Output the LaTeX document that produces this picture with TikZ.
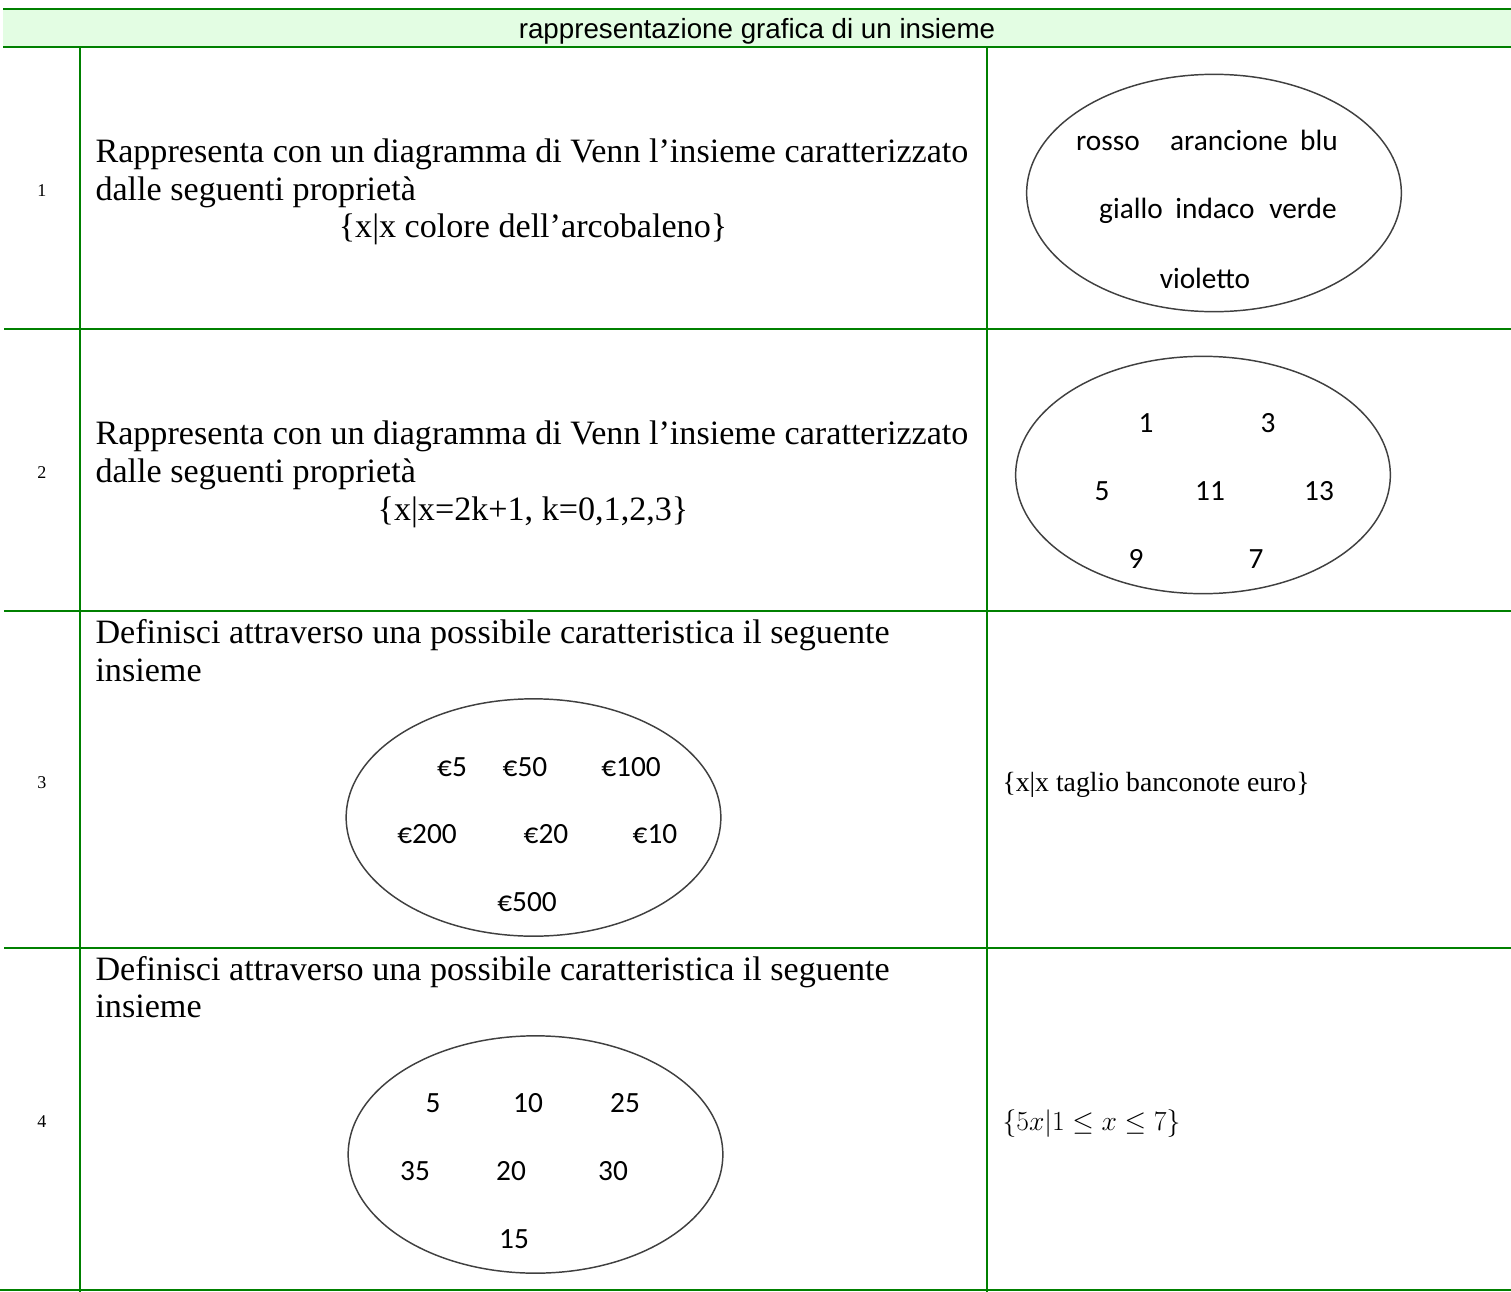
\documentclass[tikz,border=0pt]{standalone}
\usepackage{fontspec}
\setmainfont{Liberation Serif}
\newfontfamily\vennfont{Carlito}
\newfontfamily\headfont{Liberation Sans}
\usetikzlibrary{shapes.geometric}

\definecolor{tabgreen}{RGB}{0,128,0}
\definecolor{headfill}{RGB}{227,253,227}

\tikzset{every picture/.style={line width=0.75pt}}
\tikzset{
  rule/.style={draw=tabgreen, line width=1.8pt},
  venn/.style={ellipse, draw=black!75, line width=1.1pt, minimum width=281pt, minimum height=178pt, inner sep=0pt},
  vlab/.style={anchor=base, inner sep=0pt, font=\vennfont\fontsize{22}{24}\selectfont},
  body/.style={anchor=base west, inner sep=0pt, font=\fontsize{25.6}{28.5}\selectfont},
  bodyc/.style={body, anchor=base},
  side/.style={anchor=base west, inner sep=0pt, font=\fontsize{20.8}{24}\selectfont},
  rownum/.style={anchor=base, inner sep=0pt, font=\fontsize{13.5}{16}\selectfont}
}

\begin{document}
\begin{tikzpicture}[x=0.75pt,y=0.75pt,yscale=-1,xscale=1]
    \useasboundingbox (0,0) rectangle (1511,1292);

    %Shape: Header band
    \fill[headfill] (3,9) rectangle (1511,47);

    %Straight Lines: horizontal rules
    \draw[rule] (3,9) -- (1511,9);
    \draw[rule] (3,47) -- (1511,47);
    \draw[rule] (4,329) -- (1511,329);
    \draw[rule] (4,611) -- (1511,611);
    \draw[rule] (4,948) -- (1511,948);
    \draw[rule] (0,1290) -- (1511,1290);
    %Straight Lines: vertical rules
    \draw[rule] (80,47) -- (80,1292);
    \draw[rule] (987,47) -- (987,1292);

    % Text Node
    \node[anchor=base, inner sep=0pt, font=\headfont\fontsize{20.8}{24}\selectfont] (title) at (757,38) {rappresentazione grafica di un insieme};

    % Text Node
    \node[rownum] (num1) at (42,196) {1};
    \node[rownum] (num2) at (42,478) {2};
    \node[rownum] (num3) at (42,788) {3};
    \node[rownum] (num4) at (42,1127) {4};

    % Text Node
    \node[body] (ask1a) at (95,162) {Rappresenta con un diagramma di Venn l’insieme caratterizzato};
    \node[body] (ask1b) at (95,200) {dalle seguenti proprietà};
    \node[bodyc] (ask1c) at (533,237) {\{x|x colore dell’arcobaleno\}};
    % Text Node
    \node[body] (ask2a) at (95,444) {Rappresenta con un diagramma di Venn l’insieme caratterizzato};
    \node[body] (ask2b) at (95,482) {dalle seguenti proprietà};
    \node[bodyc] (ask2c) at (533,520) {\{x|x=2k+1, k=0,1,2,3\}};
    % Text Node
    \node[body] (ask3a) at (95,643) {Definisci attraverso una possibile caratteristica il seguente};
    \node[body] (ask3b) at (95,681) {insieme};
    % Text Node
    \node[body] (ask4a) at (95,980) {Definisci attraverso una possibile caratteristica il seguente};
    \node[body] (ask4b) at (95,1017) {insieme};

    % Text Node
    \node[side] (ans3) at (1002,791) {\{x|x taglio banconote euro\}};
    \node[side] (ans4) at (1002,1130) {$\{5x|1\leq x\leq 7\}$};

    %Shape: Ellipse
    \node[venn] (colori) at (1214,193) {};
    \node[vlab] (rosso) at (1108,150) {rosso};
    \node[vlab] (arancione) at (1229,150) {arancione};
    \node[vlab] (blu) at (1319,150) {blu};
    \node[vlab] (giallo) at (1131,218) {giallo};
    \node[vlab] (indaco) at (1215,218) {indaco};
    \node[vlab] (verde) at (1303,218) {verde};
    \node[vlab] (violetto) at (1205,288) {violetto};

    %Shape: Ellipse
    \node[venn] (dispari) at (1203,475) {};
    \node[vlab] (d1) at (1146,432) {1};
    \node[vlab] (d3) at (1268,432) {3};
    \node[vlab] (d5) at (1102,500) {5};
    \node[vlab] (d11) at (1210,500) {11};
    \node[vlab] (d13) at (1319,500) {13};
    \node[vlab] (d9) at (1136,568) {9};
    \node[vlab] (d7) at (1256,568) {7};

    %Shape: Ellipse
    \node[venn] (euro) at (533.5,817.5) {};
    \node[vlab] (e5) at (452,776) {€5};
    \node[vlab] (e50) at (525,776) {€50};
    \node[vlab] (e100) at (631,776) {€100};
    \node[vlab] (e200) at (427,843) {€200};
    \node[vlab] (e20) at (546,843) {€20};
    \node[vlab] (e10) at (655,843) {€10};
    \node[vlab] (e500) at (527,911) {€500};

    %Shape: Ellipse
    \node[venn] (multipli) at (535.5,1154.5) {};
    \node[vlab] (m5) at (433,1112) {5};
    \node[vlab] (m10) at (528,1112) {10};
    \node[vlab] (m25) at (625,1112) {25};
    \node[vlab] (m35) at (415,1180) {35};
    \node[vlab] (m20) at (511,1180) {20};
    \node[vlab] (m30) at (613,1180) {30};
    \node[vlab] (m15) at (514,1248) {15};
\end{tikzpicture}
\end{document}
